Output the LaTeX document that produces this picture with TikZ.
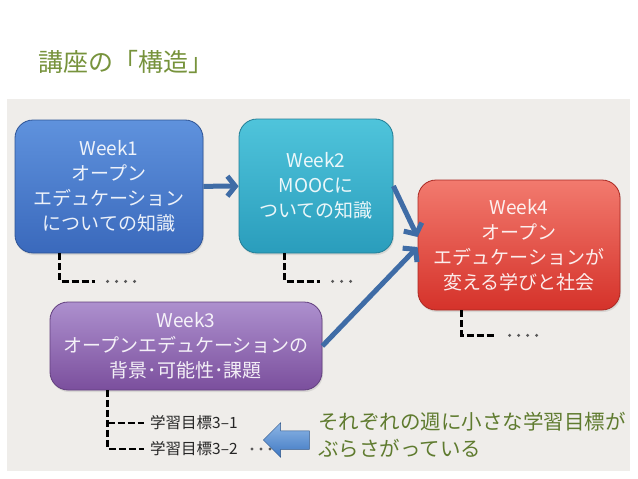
\documentclass[tikz,border=0pt]{standalone}
\usepackage{fontspec}
\setmainfont{Noto Sans CJK JP}
\usetikzlibrary{arrows.meta,shapes.arrows,shadows}

\definecolor{titlegreen}{HTML}{77933C}
\definecolor{notegreen}{HTML}{5F7B2F}
\definecolor{panelgray}{HTML}{EFEDEA}
\definecolor{arrowblue}{HTML}{3F6CA6}
\definecolor{oneTop}{HTML}{5F92DD}
\definecolor{oneBot}{HTML}{3A69BC}
\definecolor{twoTop}{HTML}{4FC4DB}
\definecolor{twoBot}{HTML}{2A9DBC}
\definecolor{fourTop}{HTML}{F27A6E}
\definecolor{fourBot}{HTML}{D5322A}
\definecolor{threeTop}{HTML}{AD90CE}
\definecolor{threeBot}{HTML}{7B4F9D}
\definecolor{hintTop}{HTML}{8DB6E6}
\definecolor{hintBot}{HTML}{3F78C2}

\begin{document}
\begin{tikzpicture}[x=1pt,y=-1pt,
    weekbox/.style={rounded corners=18pt, line width=0.8pt, inner sep=0pt, align=center,
        text=white, text opacity=0.9, font=\fontsize{19}{25}\selectfont,
        drop shadow={shadow xshift=1pt, shadow yshift=-2pt, opacity=0.2}},
    flow/.style={draw=arrowblue, line width=5pt, -{Straight Barb[length=8pt,width=20pt]}},
    tree/.style={black, line width=2.6pt, dash pattern=on 7pt off 3pt},
    dots/.style={black!65, line width=3.4pt, line cap=round, dash pattern=on 0pt off 9pt},
    goal/.style={font=\fontsize{15.5}{18}\selectfont, text=black!85, anchor=west, inner sep=0pt}]
    \useasboundingbox[fill=white] (0,0) rectangle (638,479);
    \fill[panelgray] (7,99) rectangle (630,471);

    \node[anchor=west, text=titlegreen, font=\fontsize{25}{30}\selectfont, inner sep=0pt] (title) at (38,62) {講座の「構造」};

    % the four weeks
    \node[weekbox, minimum width=188pt, minimum height=133pt, draw=oneBot!80!black,
        top color=oneTop, bottom color=oneBot]
        (w1) at (109,186.5) {Week1\\オープン\\エデュケーション\\についての知識};
    \node[weekbox, minimum width=154pt, minimum height=134pt, draw=twoBot!80!black,
        top color=twoTop, bottom color=twoBot]
        (w2) at (316,186) {Week2\\MOOCに\\ついての知識};
    \node[weekbox, minimum width=202pt, minimum height=130pt, draw=fourBot!80!black,
        top color=fourTop, bottom color=fourBot]
        (w4) at (519,245) {Week4\\オープン\\エデュケーションが\\変える学びと社会};
    \node[weekbox, minimum width=272pt, minimum height=88pt, draw=threeBot!80!black,
        top color=threeTop, bottom color=threeBot]
        (w3) at (186,346) {Week3\\オープンエデュケーションの\\背景･可能性･課題};

    \draw[flow] (w1) -- (w2);
    \draw[flow] (w2.east) -- ([yshift=8pt]w4.west);
    \draw[flow] (w3.east) -- ([yshift=-2pt]w4.west);

    % dangling goals
    \draw[tree] ([xshift=45pt]w1.south west) |- ++(35,28) coordinate (d1);
    \draw[dots] ([xshift=13pt]d1) -- ++(27,0);
    \draw[tree] ([xshift=46pt]w2.south west) |- ++(35,28) coordinate (d2);
    \draw[dots] ([xshift=13pt]d2) -- ++(27,0);
    \draw[tree] ([xshift=44pt]w4.south west) |- ++(35,25) coordinate (d4);
    \draw[dots] ([xshift=13pt]d4) -- ++(27,0);

    \node[goal] (g1) at (150,423) {学習目標3–1};
    \node[goal] (g2) at (150,449) {学習目標3–2};
    \draw[tree, shorten >=6pt] ([xshift=58pt]w3.south west) coordinate (t3) |- (g2.west);
    \draw[tree, shorten >=6pt] (t3 |- g1.west) -- (g1.west);
    \draw[dots] ([xshift=102pt]g2.west) -- ++(27,0);

    \node[single arrow, shape border rotate=180, inner sep=0pt, inner ysep=9pt,
        minimum height=46pt, single arrow head extend=8pt, draw=hintBot!70!black,
        line width=0.5pt, top color=hintTop, bottom color=hintBot]
        (hint) at (291,440) {};
    \node[anchor=west, align=left, text=notegreen, font=\fontsize{20.5}{27}\selectfont, inner sep=0pt]
        (note) at (318,435) {それぞれの週に小さな学習目標が\\ぶらさがっている};
\end{tikzpicture}
\end{document}
